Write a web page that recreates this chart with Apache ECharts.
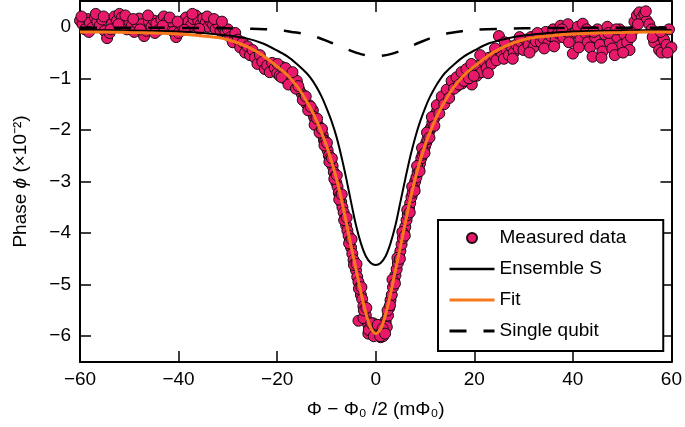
<!DOCTYPE html>
<html>
<head>
<meta charset="utf-8">
<script src="https://cdn.jsdelivr.net/npm/echarts@6/dist/echarts.min.js"></script>
<style>
html,body{margin:0;padding:0;background:#fff;}
#chart{width:685px;height:427px;}
</style>
</head>
<body>
<div id="chart"></div>
<script>
// ---- data ----
const xTicks = [-60, -40, -20, 0, 20, 40, 60];
const yTicks = [-6, -5, -4, -3, -2, -1, 0];

const measured = [
[-60,0.12],[-59.5,0.05],[-59,-0.05],[-58.5,0.15],[-58,0.08],[-57.5,-0.02],[-57,0.18],[-56.5,0.1],[-56,0.02],[-55.5,0.14],
[-55,-0.08],[-54.5,-0.22],[-54,-0.12],[-53.5,0.06],[-53,0.2],[-52.5,0.12],[-52,0.25],[-51.5,0.18],[-51,0.05],[-50.5,-0.05],
[-50,0.1],[-49.5,0.02],[-49,-0.1],[-48.5,0.08],[-48,0.16],[-47.5,0.05],[-47,-0.18],[-46.5,-0.08],[-46,0.1],[-45.5,0.0],
[-45,0.12],[-44.5,0.06],[-44,-0.06],[-43.5,0.14],[-43,0.2],[-42.5,0.08],[-42,-0.02],[-41.5,0.1],[-41,-0.1],[-40.5,-0.2],
[-40,-0.12],[-39.5,0.04],[-39,0.12],[-38.5,0.18],[-38,0.1],[-37.5,0.02],[-37,0.15],[-36.5,0.22],[-36,0.12],[-35.5,0.05],
[-35,0.16],[-34.5,0.08],[-34,0.0],[-33.5,0.1],[-33,0.04],[-32.5,-0.04],[-32,0.06],[-31.5,-0.08],[-31,-0.02],
[-30.5,-0.1],[-30,-0.05],[-29.5,-0.2],[-29,-0.3],[-28.5,-0.12],[-28,-0.25],[-27.5,-0.4],[-27,-0.3],[-26.5,-0.5],[-26,-0.38],
[-25.5,-0.55],[-25,-0.45],[-24.5,-0.6],[-24,-0.72],[-23.5,-0.55],[-23,-0.68],[-22.5,-0.82],[-22,-0.75],[-21.5,-0.88],[-21,-0.7],
[-20.5,-0.8],[-20,-0.9],
[-19.5,-0.95],[-19,-0.78],[-18.5,-1.0],[-18,-0.85],[-17.5,-1.05],[-17,-0.95],[-16.5,-1.12],[-16,-1.05],[-15.5,-1.22],[-15,-1.3],
[-14.5,-1.35],[-14,-1.5],[-13.5,-1.52],[-13,-1.65],
[-12.75,-1.62],[-12.5,-1.75],[-12.25,-1.8],[-12,-1.86],[-11.75,-1.9],[-11.5,-1.95],[-11.25,-2.02],[-11,-2.08],[-10.75,-2.1],[-10.5,-2.2],
[-10.25,-2.22],[-10,-2.33],[-9.75,-2.4],[-9.5,-2.5],[-9.25,-2.55],[-9,-2.65],[-8.75,-2.7],[-8.5,-2.82],[-8.25,-2.9],[-8,-3.02],
[-7.75,-3.1],[-7.5,-3.22],[-7.25,-3.28],[-7,-3.4],[-6.75,-3.5],[-6.5,-3.6],[-6.25,-3.72],[-6,-3.85],[-5.75,-3.95],[-5.5,-4.05],
[-5.25,-4.15],[-5,-4.28],[-4.75,-4.4],[-4.5,-4.52],[-4.25,-4.6],[-4,-4.72],[-3.75,-4.85],[-3.5,-4.95],[-3.25,-5.05],[-3,-5.2],
[-2.75,-5.28],[-2.5,-5.42],[-2.25,-5.5],[-2,-5.6],[-1.75,-5.72],[-1.5,-5.78],[-1.25,-5.85],[-1,-5.9],[-0.75,-5.88],[-0.5,-5.95],
[-0.25,-5.82],[0,-5.9],
[-3.5,-5.7],[-2.5,-5.65],[-1.5,-5.95],[-0.5,-5.75],[0.5,-5.98],[1.0,-6.02],[1.5,-5.92],[2,-5.7],
[0.25,-5.92],[0.5,-5.85],[0.75,-5.98],[1,-5.8],[1.25,-5.95],[1.5,-6.0],[1.75,-5.9],[2,-5.75],[2.25,-5.82],[2.5,-5.6],
[2.75,-5.45],[3,-5.3],[3.25,-5.2],[3.5,-5.05],[3.75,-4.92],[4,-4.82],[4.25,-4.7],[4.5,-4.58],[4.75,-4.45],[5,-4.35],
[5.25,-4.22],[5.5,-4.1],[5.75,-4.0],[6,-3.88],[6.25,-3.75],[6.5,-3.65],[6.75,-3.52],[7,-3.42],[7.25,-3.3],[7.5,-3.22],
[7.75,-3.1],[8,-3.0],[8.25,-2.92],[8.5,-2.82],[8.75,-2.75],[9,-2.65],[9.25,-2.55],[9.5,-2.48],[9.75,-2.42],[10,-2.32],
[10.25,-2.25],[10.5,-2.18],[10.75,-2.05],[11,-2.0],[11.25,-1.95],[11.5,-1.85],[11.75,-1.8],[12,-1.75],[12.25,-1.68],[12.5,-1.62],
[12.75,-1.55],[13,-1.5],
[13.5,-1.42],[14,-1.38],[14.5,-1.32],[15,-1.25],[15.5,-1.12],[16,-1.08],[16.5,-1.15],[17,-1.02],[17.5,-1.1],[18,-0.95],
[18.5,-1.05],[19,-0.9],[19.5,-1.12],[20,-0.85],
[20.5,-0.95],[21,-0.75],[21.5,-0.88],[22,-0.68],[22.5,-0.8],[23,-0.6],[23.5,-0.72],[24,-0.55],[24.5,-0.65],[25,-0.18],
[25.5,-0.5],[26,-0.62],[26.5,-0.45],[27,-0.55],[27.5,-0.38],[28,-0.5],[28.5,-0.35],[29,-0.42],[29.5,-0.3],[30,-0.45],
[30.5,-0.25],[31,-0.35],[31.5,-0.2],[32,-0.4],[32.5,-0.28],[33,-0.15],[33.5,-0.3],[34,-0.22],[34.5,-0.1],[35,-0.32],
[35.5,-0.18],[36,-0.05],[36.5,-0.25],[37,-0.12],[37.5,0.02],[38,-0.2],[38.5,-0.08],[39,0.05],[39.5,-0.15],[40,-0.52],
[40.5,-0.1],[41,0.0],[41.5,-0.25],[42,0.06],[42.5,-0.12],[43,-0.3],[43.5,-0.4],[44,-0.58],[44.5,-0.2],[45,-0.05],
[45.5,-0.35],[46,-0.48],[46.5,-0.15],[47,0.0],[47.5,-0.3],[48,-0.42],[48.5,-0.55],[49,-0.2],[49.5,-0.05],[50,-0.35],
[50.5,-0.15],[51,-0.3],[51.5,-0.45],[52,-0.1],
[52.5,0.1],[53,0.22],[53.5,0.28],[54,0.18],[54.5,0.25],[55,0.12],[55.5,0.05],[56,-0.05],
[56.5,-0.3],[57,-0.15],[57.5,-0.45],[58,-0.5],[58.5,-0.25],[59,-0.35],[59.5,-0.05],[60,-0.4]
];

// second sweep of measured points (thickens the band)
const measured2 = [
[-59.7,0.2],[-58.2,-0.1],[-56.8,0.25],[-55.2,0.2],[-53.8,-0.05],[-52.2,0.05],[-50.8,0.22],[-49.2,0.15],[-47.8,-0.05],[-46.2,0.22],
[-44.8,-0.12],[-43.2,0.02],[-41.8,0.18],[-40.2,0.1],[-38.8,-0.06],[-37.2,0.25],[-35.8,-0.04],[-34.2,0.2],[-32.8,0.15],[-31.2,0.1],
[-19.9,-0.72],[-19.1,-0.98],[-18.3,-0.8],[-17.7,-1.12],[-16.9,-0.88],[-16.2,-1.2],[-15.7,-1.15],[-14.8,-1.42],[-14.2,-1.35],[-13.7,-1.62],
[-13.2,-1.55],[-12.4,-1.9],[-11.9,-1.78],[-11.4,-2.05],[-10.9,-1.98],[-10.4,-2.3],[-9.9,-2.25],[-9.4,-2.62],[-8.9,-2.55],[-8.4,-2.95],
[-7.9,-2.88],[-7.4,-3.35],[-6.9,-3.25],[-6.4,-3.75],[-5.9,-3.7],[-5.4,-4.2],[-4.9,-4.12],[-4.4,-4.62],[-3.9,-4.6],[-3.4,-5.08],
[-2.9,-5.05],[-2.4,-5.5],[-1.9,-5.45],[-1.4,-5.88],[-0.9,-5.75],[-0.4,-6.0],
[0.4,-5.78],[0.9,-6.0],[1.4,-5.85],[1.9,-5.95],[2.4,-5.5],[2.9,-5.4],[3.4,-4.9],[3.9,-4.98],[4.4,-4.48],[4.9,-4.5],
[5.4,-3.98],[5.9,-4.05],[6.4,-3.55],[6.9,-3.6],[7.4,-3.1],[7.9,-3.18],[8.4,-2.7],[8.9,-2.8],[9.4,-2.35],[9.9,-2.45],
[10.4,-2.05],[10.9,-2.15],[11.4,-1.75],[11.9,-1.92],[12.4,-1.52],[12.9,-1.68],[13.4,-1.35],[13.9,-1.5],[14.4,-1.22],[14.9,-1.38],
[15.4,-1.05],[15.9,-1.2],[16.4,-0.98],[16.9,-1.12],[17.4,-0.88],[17.9,-1.05],[18.4,-0.82],[18.9,-1.0],[19.4,-0.72],[19.9,-0.95],
[21.2,-0.55],[22.8,-0.9],[24.2,-0.42],[26.2,-0.3],[27.8,-0.62],[29.2,-0.2],[31.2,-0.5],[32.8,-0.12],[34.2,-0.42],[36.2,-0.38],
[37.8,-0.05],[39.2,-0.3],[41.2,-0.4],[42.8,-0.05],[44.2,-0.1],[45.8,-0.6],[47.2,-0.12],[48.8,-0.05],[50.2,-0.5],[51.8,-0.2],
[53.2,0.05],[54.8,0.3],[56.2,-0.2],[57.8,-0.1],[59.2,-0.5]
];

const ensembleS = [
[-60,-0.06],[-50,-0.07],[-40,-0.09],[-35,-0.12],[-30,-0.17],[-26,-0.23],[-23,-0.32],[-20,-0.46],[-18,-0.57],[-16,-0.72],
[-14,-0.9],[-13,-1.02],[-12,-1.17],[-11,-1.35],[-10,-1.57],[-9,-1.82],[-8,-2.12],[-7,-2.5],[-6,-2.93],[-5,-3.4],
[-4,-3.85],[-3,-4.2],[-2,-4.45],[-1,-4.58],[0,-4.62],[1,-4.58],[2,-4.45],[3,-4.2],[4,-3.85],[5,-3.4],
[6,-2.95],[7,-2.52],[8,-2.15],[9,-1.84],[10,-1.58],[11,-1.36],[12,-1.18],[13,-1.03],[14,-0.9],[16,-0.72],
[18,-0.57],[20,-0.46],[23,-0.32],[26,-0.24],[30,-0.17],[35,-0.12],[40,-0.09],[50,-0.07],[60,-0.06]
];

const fitCurve = [
[-60,-0.1],[-55,-0.1],[-50,-0.11],[-45,-0.12],[-40,-0.14],[-36,-0.17],[-32,-0.21],[-30,-0.25],[-28,-0.31],[-26,-0.39],
[-24,-0.49],[-22,-0.62],[-20,-0.77],[-18,-0.93],[-16,-1.15],[-15,-1.29],[-14,-1.45],[-13,-1.62],[-12,-1.82],[-11,-2.05],
[-10,-2.3],[-9,-2.6],[-8,-2.93],[-7,-3.33],[-6,-3.78],[-5,-4.25],[-4,-4.7],[-3,-5.15],[-2,-5.55],[-1,-5.84],
[0,-5.95],[1,-5.86],[2,-5.58],[3,-5.18],[4,-4.72],[5,-4.27],[6,-3.8],[7,-3.35],[8,-2.95],[9,-2.6],
[10,-2.3],[11,-2.05],[12,-1.82],[13,-1.62],[14,-1.45],[15,-1.29],[16,-1.15],[18,-0.93],[20,-0.77],[22,-0.62],
[24,-0.49],[26,-0.39],[28,-0.31],[30,-0.25],[32,-0.21],[36,-0.17],[40,-0.14],[45,-0.12],[50,-0.11],[55,-0.1],[60,-0.1]
];

const singleQubit = [
[-60,-0.02],[-45,-0.02],[-30,-0.03],[-25,-0.04],[-20,-0.06],[-17,-0.1],[-15,-0.13],[-12,-0.2],[-9,-0.31],[-6,-0.43],
[-3,-0.53],[0,-0.57],[3,-0.53],[6,-0.43],[9,-0.3],[12,-0.19],[15,-0.12],[18,-0.08],[20,-0.06],[25,-0.04],
[30,-0.03],[45,-0.02],[60,-0.02]
];

const seriesNames = ['Measured data', 'Ensemble S', 'Fit', 'Single qubit'];

// ---- chart ----
const FONT = '"Liberation Sans", Arial, Helvetica, sans-serif';
const minus = v => String(v).replace('-', '\u2212');
const axisLine = { show: true, onZero: false, lineStyle: { color: '#000', width: 2 } };
const axisTick = { show: true, inside: true, length: 11, lineStyle: { color: '#000', width: 1.5 } };
const hiddenSymbol = { opacity: 0, color: 'rgba(0,0,0,0)', borderWidth: 0 };
const pointStyle = { color: '#e8196b', borderColor: '#1a0a10', borderWidth: 1, opacity: 1 };

const chart = echarts.init(document.getElementById('chart'), null, { renderer: 'canvas' });
chart.setOption({
  animation: false,
  backgroundColor: '#fff',
  grid: { left: 80, right: 12, top: 1, bottom: 65, containLabel: false },
  xAxis: [
    {
      type: 'value', min: -60, max: 60, interval: 20, position: 'bottom',
      axisLine, axisTick, splitLine: { show: false },
      axisLabel: { color: '#000', fontSize: 19, fontFamily: FONT, margin: 8, formatter: minus },
      name: '\u03A6 \u2212 \u03A6\u2080 /2 (m\u03A6\u2080)', nameLocation: 'middle', nameGap: 38,
      nameTextStyle: { color: '#000', fontSize: 19, fontFamily: FONT }
    },
    {
      type: 'value', min: -60, max: 60, interval: 20, position: 'top',
      axisLine, axisTick, splitLine: { show: false }, axisLabel: { show: false }
    }
  ],
  yAxis: [
    {
      type: 'value', min: -6.5, max: 0.5, position: 'left',
      axisLine, splitLine: { show: false },
      axisTick: Object.assign({ customValues: yTicks }, axisTick),
      axisLabel: { color: '#000', fontSize: 19, fontFamily: FONT, margin: 9, formatter: minus, customValues: yTicks },
      name: 'Phase {i|\u03D5} (\u00D710\u207B\u00B2)', nameLocation: 'middle', nameGap: 50,
      nameTextStyle: { color: '#000', fontSize: 19, fontFamily: FONT,
        rich: { i: { fontStyle: 'italic', fontSize: 19, fontFamily: FONT, color: '#000' } } }
    },
    {
      type: 'value', min: -6.5, max: 0.5, position: 'right',
      axisLine, splitLine: { show: false },
      axisTick: Object.assign({ customValues: yTicks }, axisTick),
      axisLabel: { show: false }
    }
  ],
  legend: {
    orient: 'vertical', left: 438, top: 220,
    padding: [8, 37, 10, 10], itemGap: 11, itemWidth: 45, itemHeight: 10, itemTextGap: 16,
    borderColor: '#000', borderWidth: 2, backgroundColor: '#fff',
    textStyle: { color: '#000', fontSize: 19, fontFamily: FONT, lineHeight: 20 },
    data: [
      { name: seriesNames[0], icon: 'circle' },
      { name: seriesNames[1], itemStyle: hiddenSymbol, lineStyle: { width: 2.5 } },
      { name: seriesNames[2], itemStyle: hiddenSymbol, lineStyle: { width: 3 } },
      { name: seriesNames[3], itemStyle: hiddenSymbol, lineStyle: { width: 3 } }
    ]
  },
  series: [
    {
      name: seriesNames[0], type: 'scatter', data: measured, symbol: 'circle', symbolSize: 11, z: 2,
      itemStyle: pointStyle
    },
    {
      name: seriesNames[0], type: 'scatter', data: measured2, symbol: 'circle', symbolSize: 11, z: 2,
      itemStyle: pointStyle
    },
    {
      name: seriesNames[1], type: 'line', data: ensembleS, smooth: 0.3, showSymbol: false, symbol: 'none', z: 3,
      lineStyle: { color: '#000', width: 2 }, itemStyle: { color: '#000' }
    },
    {
      name: seriesNames[2], type: 'line', data: fitCurve, smooth: 0.3, showSymbol: false, symbol: 'none', z: 5,
      lineStyle: { color: '#f7791c', width: 3 }, itemStyle: { color: '#f7791c' }
    },
    {
      name: seriesNames[3], type: 'line', data: singleQubit, smooth: 0.3, showSymbol: false, symbol: 'none', z: 4,
      lineStyle: { color: '#000', width: 2.5, type: [17, 17] }, itemStyle: { color: '#000' }
    }
  ]
});
</script>
</body>
</html>
